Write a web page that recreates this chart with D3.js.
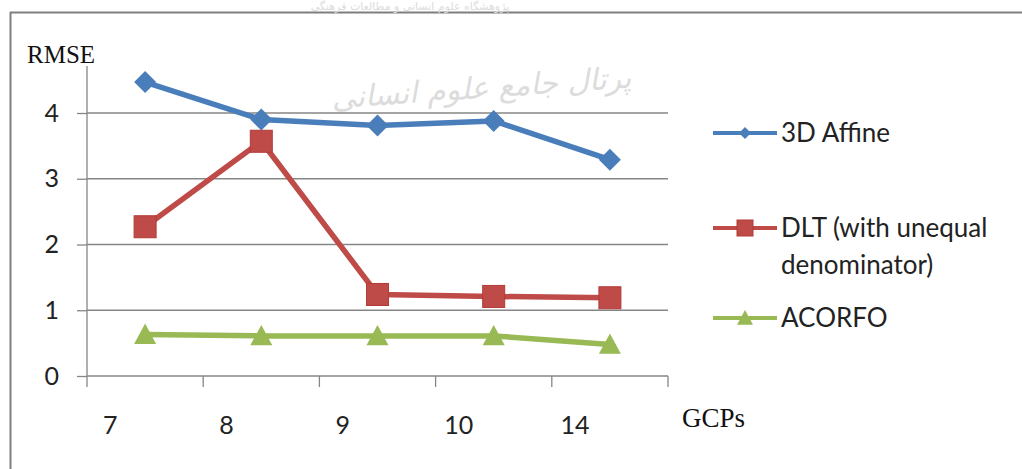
<!DOCTYPE html>
<html>
<head>
<meta charset="utf-8">
<script src="https://cdn.jsdelivr.net/npm/d3@7"></script>
<style>
  body { margin: 0; background: #fff; }
  svg { display: block; }
</style>
</head>
<body>
<svg id="chart" width="1022" height="469"></svg>
<script>
// datos del grafico
var categorias = ["7", "8", "9", "10", "14"];
var affine3d = [4.47, 3.90, 3.81, 3.88, 3.29];
var dlt = [2.27, 3.57, 1.24, 1.21, 1.19];
var acorfo = [0.63, 0.61, 0.61, 0.61, 0.48];
var yTicks = [0, 1, 2, 3, 4];
var nombres = ["3D Affine", "DLT (with unequal|denominator)", "ACORFO"];
var colores = ["#4a7ebb", "#be4b48", "#98b954"];

var svg = d3.select("#chart");

// fondo y marco exterior
svg.append("rect").attr("width", 1022).attr("height", 469).attr("fill", "#fff");
svg.append("line").attr("x1", 10).attr("x2", 1022).attr("y1", 12.5).attr("y2", 12.5)
  .attr("stroke", "#7f7f7f").attr("stroke-width", 2);
svg.append("line").attr("x1", 10.5).attr("x2", 10.5).attr("y1", 12).attr("y2", 469)
  .attr("stroke", "#7f7f7f").attr("stroke-width", 2);

// marca de agua
svg.append("text").attr("x", 482).attr("y", 98)
  .attr("text-anchor", "middle")
  .attr("transform", "rotate(-4 482 98)")
  .style("font-family", "DejaVu Sans").style("font-size", "30px").style("font-style", "italic")
  .attr("fill", "#dcdcdc")
  .text("پرتال جامع علوم انسانی");
svg.append("text").attr("x", 410).attr("y", 10)
  .attr("text-anchor", "middle")
  .style("font-family", "DejaVu Sans").style("font-size", "11px")
  .attr("fill", "#dcdcdc")
  .text("پژوهشگاه علوم انسانی و مطالعات فرهنگی");

// escalas
var x = d3.scaleBand().domain(categorias).range([87, 668]).padding(0);
var y = d3.scaleLinear().domain([0, 4]).range([376, 113]);

// lineas de la cuadricula
svg.append("g").selectAll("line").data(yTicks.slice(1)).enter().append("line")
  .attr("x1", 87).attr("x2", 668)
  .attr("y1", function(d) { return y(d); }).attr("y2", function(d) { return y(d); })
  .attr("stroke", "#868686").attr("stroke-width", 1.3);

// eje izquierdo
var ejeY = d3.axisLeft(y).tickValues(yTicks).tickFormat(d3.format("d")).tickSize(10).tickPadding(18);
var gy = svg.append("g").attr("transform", "translate(87,0)").call(ejeY);
gy.select(".domain").remove();
gy.append("line").attr("x1", 0).attr("x2", 0).attr("y1", 66).attr("y2", 376)
  .attr("stroke", "#868686").attr("stroke-width", 1.3);
gy.selectAll(".tick line").attr("stroke", "#868686").attr("stroke-width", 1.3);
gy.selectAll(".tick text").style("font-family", "Lato").style("font-size", "25px").attr("fill", "#222");

// eje inferior
var bordes = categorias.map(function(c) { return x(c); }).concat([668]);
var gx = svg.append("g");
gx.append("line").attr("x1", 87).attr("x2", 668).attr("y1", 376).attr("y2", 376)
  .attr("stroke", "#868686").attr("stroke-width", 1.3);
gx.selectAll(".tk").data(bordes).enter().append("line")
  .attr("x1", function(d) { return d; }).attr("x2", function(d) { return d; })
  .attr("y1", 376).attr("y2", 387)
  .attr("stroke", "#868686").attr("stroke-width", 1.3);
gx.selectAll("text").data(categorias).enter().append("text")
  .attr("x", function(d) { return x(d) + x.bandwidth() * 0.2; })
  .attr("y", 434)
  .attr("text-anchor", "middle")
  .style("font-family", "Lato").style("font-size", "25px").attr("fill", "#222")
  .text(function(d) { return d; });

// titulos de los ejes
svg.append("text").attr("x", 27).attr("y", 63)
  .style("font-family", "Liberation Serif").style("font-size", "25px").attr("fill", "#111")
  .text("RMSE");
svg.append("text").attr("x", 682).attr("y", 427)
  .style("font-family", "Liberation Serif").style("font-size", "27px").attr("fill", "#111")
  .text("GCPs");

// marcadores
function marcador(g, tipo, cx, cy, s, color) {
  if (tipo == 0) {
    g.append("path").attr("d", "M" + cx + "," + (cy - s) + "L" + (cx + s) + "," + cy + "L" + cx + "," + (cy + s) + "L" + (cx - s) + "," + cy + "Z")
      .attr("fill", color);
  } else if (tipo == 1) {
    g.append("rect").attr("x", cx - s).attr("y", cy - s).attr("width", 2 * s).attr("height", 2 * s)
      .attr("fill", color).attr("stroke", "#b23a37").attr("stroke-width", 1);
  } else {
    g.append("path").attr("d", "M" + cx + "," + (cy - s) + "L" + (cx + s) + "," + (cy + s * 0.85) + "L" + (cx - s) + "," + (cy + s * 0.85) + "Z")
      .attr("fill", color);
  }
}

var series = [affine3d, dlt, acorfo];
var tamanos = [11, 11, 11];
var linea = d3.line()
  .x(function(d, i) { return x(categorias[i]) + x.bandwidth() / 2; })
  .y(function(d) { return y(d); });

series.forEach(function(s, k) {
  var g = svg.append("g");
  g.append("path").attr("d", linea(s)).attr("fill", "none")
    .attr("stroke", colores[k]).attr("stroke-width", 5.5).attr("stroke-linejoin", "round");
  s.forEach(function(v, i) {
    marcador(g, k, x(categorias[i]) + x.bandwidth() / 2, y(v), tamanos[k], colores[k]);
  });
});

// leyenda
var leyendaY = [133, 228, 318];
nombres.forEach(function(n, k) {
  var g = svg.append("g");
  g.append("line").attr("x1", 713).attr("x2", 777).attr("y1", leyendaY[k]).attr("y2", leyendaY[k])
    .attr("stroke", colores[k]).attr("stroke-width", 4);
  marcador(g, k, 745, leyendaY[k], [6, 8, 8][k], colores[k]);
  var lineas = n.split("|");
  lineas.forEach(function(t, j) {
    g.append("text").attr("x", 781).attr("y", leyendaY[k] + 9 + j * 37)
      .style("font-family", "Lato").style("font-size", "26px").attr("fill", "#222")
      .text(t);
  });
});
</script>
</body>
</html>
